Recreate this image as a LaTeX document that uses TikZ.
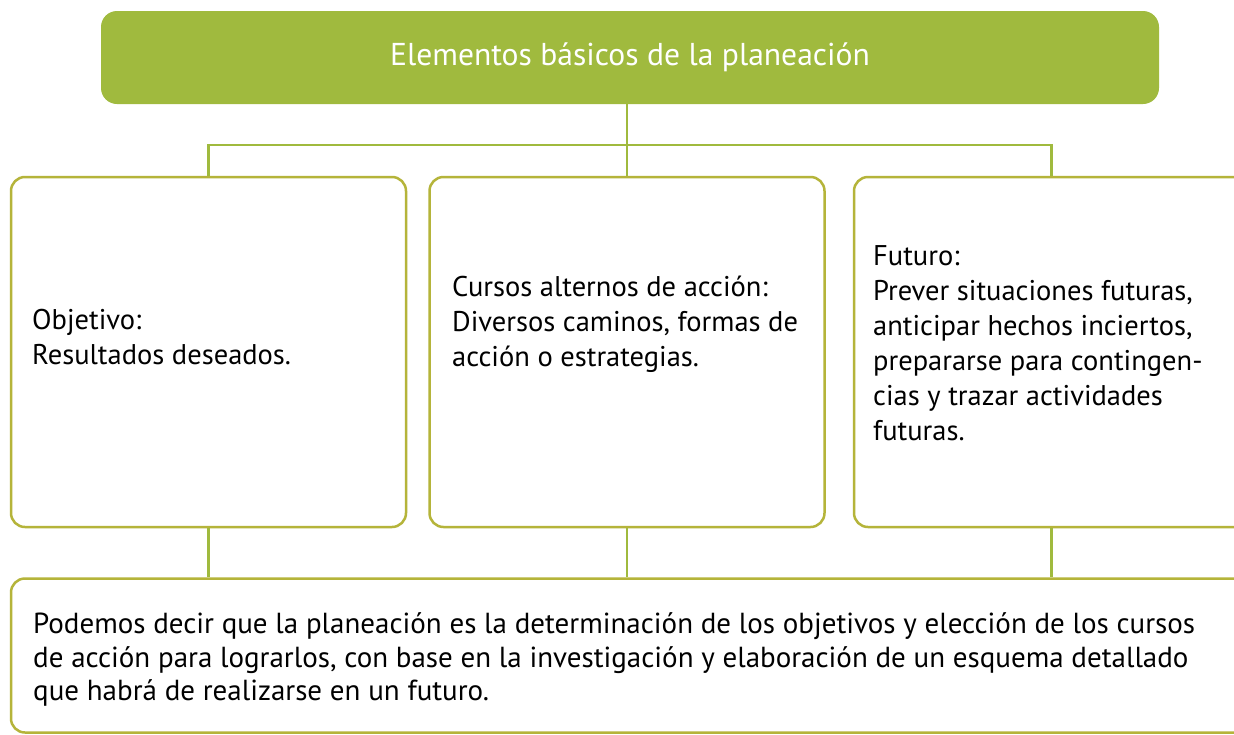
\documentclass[tikz,border=0pt]{standalone}
\usepackage{fontspec}
\setmainfont{PT Sans}
\definecolor{leaf}{HTML}{A0BA3E}
\definecolor{boxline}{HTML}{B5B43A}

\begin{document}
\begin{tikzpicture}[x=1pt,y=-1pt]
  \tikzstyle{every node}+=[inner sep=0pt]
  \tikzstyle{head}=[fill=leaf, rounded corners=16pt, minimum width=1058pt, minimum height=93pt, text=white, font=\fontsize{31.6}{38}\selectfont]
  \tikzstyle{card}=[draw=boxline, line width=2.5pt, rounded corners=14pt, minimum width=395pt, minimum height=350pt]
  \tikzstyle{link}=[draw=leaf, line width=2.3pt]
  \tikzstyle{say}=[anchor=north west, align=left, font=\fontsize{28.5}{35}\selectfont]
  \path[use as bounding box, clip] (0,0) rectangle (1234,734);
  \fill[white] (0,0) rectangle (1234,734);
  % title
  \node[head] (title) at (630,57.5) {Elementos básicos de la planeación};
  % the three elements
  \node[card] (obj) at (208.5,352) {};
  \node[card] (alt) at (627,352) {};
  \node[card] (fut) at (1051.5,352) {};
  \node[say] (objtxt) at (32,309.5) {Objetivo:\\Resultados deseados.};
  \node[say] (alttxt) at (452,275.5) {Cursos alternos de acción:\\Diversos caminos, formas de\\acción o estrategias.};
  \node[say] (futtxt) at (873,245) {Futuro:\\Prever situaciones futuras,\\anticipar hechos inciertos,\\prepararse para contingen-\\cias y trazar actividades\\futuras.};
  % conclusion
  \node[card, minimum width=1238pt, minimum height=154pt] (note) at (630,655.5) {};
  \node[say, font=\fontsize{29}{33.5}\selectfont] (notetxt) at (33,612.5) {Podemos decir que la planeación es la determinación de los objetivos y elección de los cursos\\de acción para lograrlos, con base en la investigación y elaboración de un esquema detallado\\que habrá de realizarse en un futuro.};
  % connectors
  \coordinate (bus) at (627,145);
  \draw[link] (title.south -| bus) -- (bus);
  \draw[link] (obj.north) |- (bus) -| (fut.north);
  \draw[link] (bus) -- (alt.north);
  \draw[link] (obj.south) -- (obj.south |- note.north);
  \draw[link] (alt.south) -- (alt.south |- note.north);
  \draw[link] (fut.south) -- (fut.south |- note.north);
\end{tikzpicture}
\end{document}
